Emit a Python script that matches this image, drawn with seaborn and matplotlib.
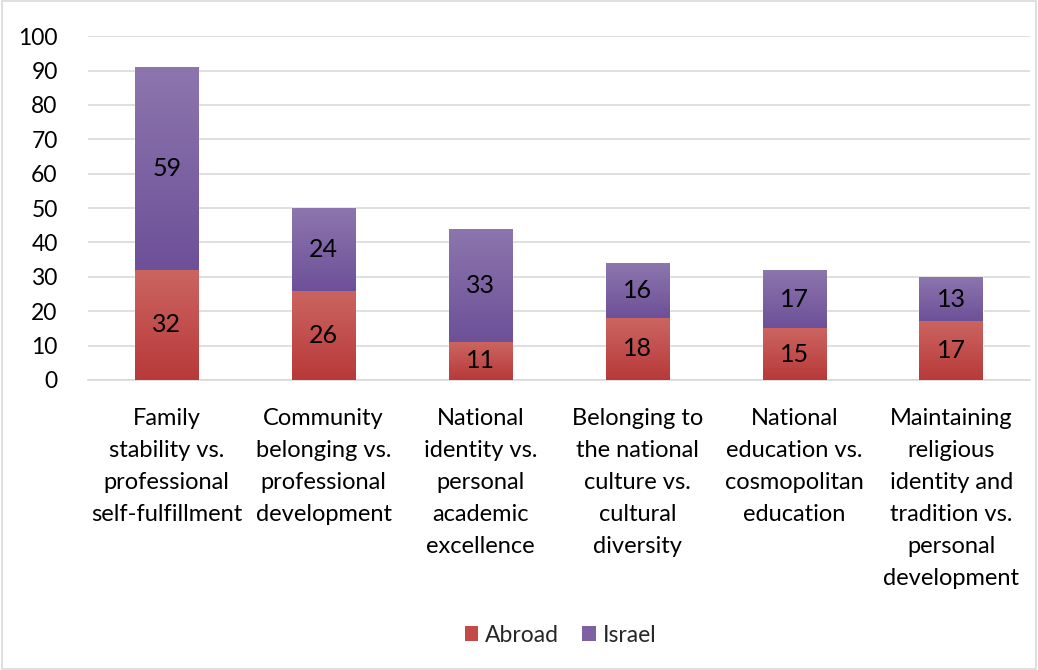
import numpy as np
import pandas as pd
import matplotlib
matplotlib.use("Agg")
import matplotlib.pyplot as plt
import seaborn as sns
from matplotlib.colors import LinearSegmentedColormap
from matplotlib.patches import Rectangle, Patch

categories = [
    "Family\nstability vs.\nprofessional\nself-fulfillment",
    "Community\nbelonging vs.\nprofessional\ndevelopment",
    "National\nidentity vs.\npersonal\nacademic\nexcellence",
    "Belonging to\nthe national\nculture vs.\ncultural\ndiversity",
    "National\neducation vs.\ncosmopolitan\neducation",
    "Maintaining\nreligious\nidentity and\ntradition vs.\npersonal\ndevelopment",
]
abroad = [32, 26, 11, 18, 15, 17]
israel = [59, 24, 33, 16, 17, 13]
series_names = ["Abroad", "Israel"]
y_ticks = list(range(0, 101, 10))

red_top, red_bot = "#CB6560", "#B8393A"
pur_top, pur_bot = "#8D76AE", "#6D5098"

sns.set_theme(style="white")
plt.rcParams["font.family"] = ["Lato", "DejaVu Sans"]

df = pd.DataFrame({"category": categories, "Abroad": abroad, "Israel": israel})
df["Total"] = df["Abroad"] + df["Israel"]

fig = plt.figure(figsize=(10.38, 6.70), dpi=100)
ax = fig.add_axes([0.085, 0.433, 0.907, 0.513])

sns.barplot(data=df, x="category", y="Total", color=pur_bot, width=0.405, ax=ax, zorder=2)
n_tot = len(ax.patches)
sns.barplot(data=df, x="category", y="Abroad", color=red_bot, width=0.405, ax=ax, zorder=3)
tot_patches = ax.patches[:n_tot]
ab_patches = ax.patches[n_tot:]

def gradient_fill(patch, top, bot, z):
    x0, y0 = patch.get_x(), patch.get_y()
    w, h = patch.get_width(), patch.get_height()
    cmap = LinearSegmentedColormap.from_list("g", [bot, top])
    grad = np.linspace(0, 1, 256).reshape(-1, 1)
    im = ax.imshow(grad, cmap=cmap, origin="lower", aspect="auto",
                   extent=[x0, x0 + w, y0, y0 + h], zorder=z)
    im.set_clip_path(patch)
    patch.set_edgecolor("none")

for p, a in zip(tot_patches, abroad):
    x0, w = p.get_x(), p.get_width()
    seg = Rectangle((x0, a), w, p.get_height() - a, transform=ax.transData,
                    facecolor="none", edgecolor="none")
    ax.add_patch(seg)
    p.set_facecolor("none")
    gradient_fill(seg, pur_top, pur_bot, 2)
for p in ab_patches:
    p.set_facecolor("none")
    gradient_fill(p, red_top, red_bot, 3)

ax.set_xlim(-0.5, len(categories) - 0.5)
ax.set_ylim(0, 100)

for i, (a, s) in enumerate(zip(abroad, israel)):
    ax.text(i, a / 2, str(a), ha="center", va="center", fontsize=18, color="#000000", zorder=5)
    ax.text(i, a + s / 2, str(s), ha="center", va="center", fontsize=18, color="#000000", zorder=5)

ax.set_yticks(y_ticks)
ax.set_yticklabels([str(t) for t in y_ticks], fontsize=16.5, color="#000000")
ax.yaxis.grid(True, color="#D9D9D9", linewidth=1.2, zorder=0)
ax.set_axisbelow(True)
ax.tick_params(axis="both", length=0)
ax.tick_params(axis="y", pad=22)
ax.tick_params(axis="x", pad=20)
ax.set_xticks(range(len(categories)))
ax.set_xticklabels(categories, fontsize=17, color="#000000", linespacing=1.65, va="top")
ax.set_xlabel("")
ax.set_ylabel("")
for s in ["top", "right", "left"]:
    ax.spines[s].set_visible(False)
ax.spines["bottom"].set_color("#D9D9D9")
ax.spines["bottom"].set_linewidth(1.2)

handles = [Patch(facecolor="#C24B48", edgecolor="none", label=series_names[0]),
           Patch(facecolor="#7D61A3", edgecolor="none", label=series_names[1])]
fig.legend(handles=handles, loc="center", bbox_to_anchor=(0.54, 0.052), ncol=2,
           frameon=False, fontsize=16.5, handlelength=0.6, handleheight=0.6,
           handletextpad=0.3, columnspacing=1.0)

fig.add_artist(Rectangle((0.002, 0.002), 0.996, 0.996, transform=fig.transFigure,
                         facecolor="none", edgecolor="#D9D9D9", linewidth=1.2))

fig.savefig("out.png", dpi=100)
